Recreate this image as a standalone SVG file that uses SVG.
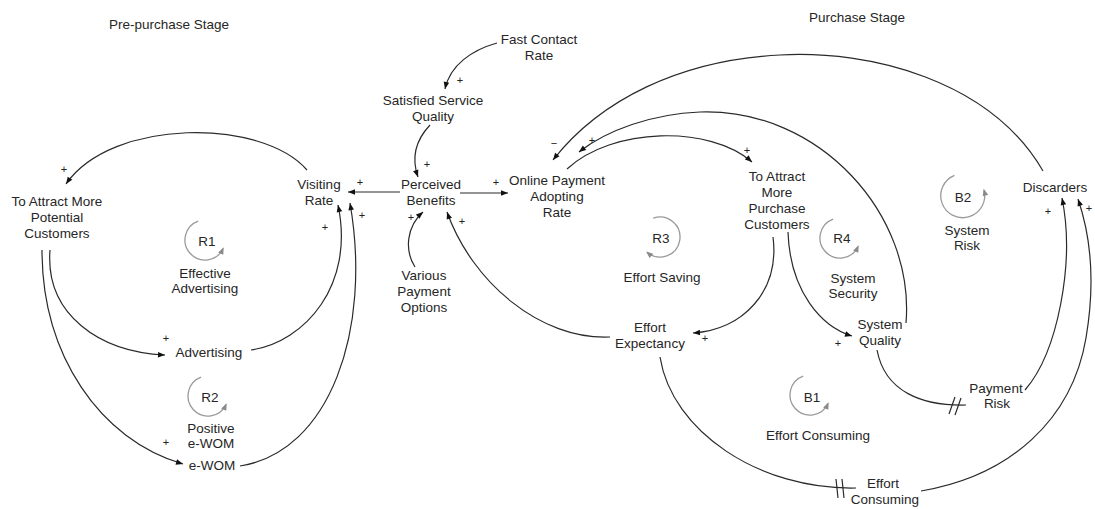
<svg xmlns="http://www.w3.org/2000/svg" width="1095" height="509" viewBox="0 0 1095 509">
<style>
.t{font-family:"Liberation Sans",Arial,sans-serif;font-size:13.5px;fill:#262626;text-anchor:middle}
.s{font-family:"Liberation Sans",Arial,sans-serif;font-size:11px;fill:#222;text-anchor:middle}
.c{fill:none;stroke:#2a2a2a;stroke-width:1.2}
.l{fill:none;stroke:#9a9a9a;stroke-width:1.3}
</style>
<defs>
<marker id="ah" viewBox="0 0 10 10" refX="10" refY="5" markerWidth="8" markerHeight="7" markerUnits="userSpaceOnUse" orient="auto"><path d="M0,1 L10,5 L0,9 z" fill="#111"/></marker>
<marker id="lh" viewBox="0 0 10 10" refX="8" refY="5" markerWidth="8" markerHeight="7" markerUnits="userSpaceOnUse" orient="auto"><path d="M0,1 L10,5 L0,9 z" fill="#8a8a8a"/></marker>
</defs>
<rect width="1095" height="509" fill="#fff"/>
<text class="t" x="169" y="29">Pre-purchase Stage</text>
<text class="t" x="857" y="22">Purchase Stage</text>
<g id="connectors">
<path class="c" marker-end="url(#ah)" d="M307,170 C262,118 112,118 66,184"/>
<path class="c" marker-end="url(#ah)" d="M50,250 C45,315 100,352 165,355"/>
<path class="c" marker-end="url(#ah)" d="M251,350 C305,342 355,285 338,205"/>
<path class="c" marker-end="url(#ah)" d="M42,250 C42,355 100,440 183,464"/>
<path class="c" marker-end="url(#ah)" d="M240,466 C330,452 372,330 350,203"/>
<path class="c" marker-end="url(#ah)" d="M400,192 L348,192"/>
<path class="c" marker-end="url(#ah)" d="M460,193 L508,193"/>
<path class="c" marker-end="url(#ah)" d="M497,43 C472,50 450,65 445,89"/>
<path class="c" marker-end="url(#ah)" d="M430,125 C414,142 412,160 418,177"/>
<path class="c" marker-end="url(#ah)" d="M415,267 C404,250 407,226 423,212"/>
<path class="c" marker-end="url(#ah)" d="M610,337 C540,340 472,282 447,212"/>
<path class="c" marker-end="url(#ah)" d="M567,169 C612,127 710,125 752,162"/>
<path class="c" marker-end="url(#ah)" d="M906,323 C915,215 820,108 700,112 C652,114 607,130 579,152"/>
<path class="c" marker-end="url(#ah)" d="M1043,171 C990,80 870,50 780,55 C680,60 600,100 553,160"/>
<path class="c" marker-end="url(#ah)" d="M773,237 C780,292 742,330 693,333"/>
<path class="c" marker-end="url(#ah)" d="M788,232 C790,292 822,327 852,336"/>
<path class="c" d="M877,350 C885,392 922,406 966,405"/>
<path class="c" d="M949,414 L955,397 M955,415 L961,398"/>
<path class="c" marker-end="url(#ah)" d="M1025,390 C1058,352 1075,262 1062,198"/>
<path class="c" d="M660,357 C672,432 760,490 856,488"/>
<path class="c" d="M836,479 L838,498 M842,479 L844,498"/>
<path class="c" marker-end="url(#ah)" d="M921,491 C1010,476 1072,420 1086,338 C1095,285 1092,240 1078,199"/>
<text class="s" x="64" y="173">+</text>
<text class="s" x="166" y="342">+</text>
<text class="s" x="325" y="231">+</text>
<text class="s" x="166" y="446">+</text>
<text class="s" x="362" y="219">+</text>
<text class="s" x="360" y="186">+</text>
<text class="s" x="496" y="186">+</text>
<text class="s" x="460" y="84">+</text>
<text class="s" x="427" y="168">+</text>
<text class="s" x="411" y="221">+</text>
<text class="s" x="462" y="225">+</text>
<text class="s" x="747" y="154">+</text>
<text class="s" x="592" y="144">+</text>
<text class="s" x="554" y="147">−</text>
<text class="s" x="705" y="342">+</text>
<text class="s" x="838" y="347">+</text>
<text class="s" x="1048" y="215">+</text>
<text class="s" x="1089" y="212">+</text>
</g>
<g id="fast-contact-rate"><text class="t" x="539" y="44">Fast Contact</text><text class="t" x="539" y="60">Rate</text></g>
<g id="satisfied-service-quality"><text class="t" x="433" y="105">Satisfied Service</text><text class="t" x="433" y="121">Quality</text></g>
<g id="visiting-rate"><text class="t" x="319" y="189">Visiting</text><text class="t" x="319" y="205">Rate</text></g>
<g id="perceived-benefits"><text class="t" x="431" y="189">Perceived</text><text class="t" x="431" y="205">Benefits</text></g>
<g id="online-payment"><text class="t" x="557" y="185">Online Payment</text><text class="t" x="557" y="201">Adopting</text><text class="t" x="557" y="217">Rate</text></g>
<g id="attract-purchase"><text class="t" x="777" y="181">To Attract</text><text class="t" x="777" y="197">More</text><text class="t" x="777" y="213">Purchase</text><text class="t" x="777" y="229">Customers</text></g>
<g id="discarders"><text class="t" x="1055" y="192">Discarders</text></g>
<g id="attract-potential"><text class="t" x="57" y="206">To Attract More</text><text class="t" x="57" y="222">Potential</text><text class="t" x="57" y="238">Customers</text></g>
<g id="advertising"><text class="t" x="209" y="357">Advertising</text></g>
<g id="ewom"><text class="t" x="212" y="470">e-WOM</text></g>
<g id="various-payment"><text class="t" x="424" y="280">Various</text><text class="t" x="424" y="296">Payment</text><text class="t" x="424" y="312">Options</text></g>
<g id="effort-expectancy"><text class="t" x="650" y="332">Effort</text><text class="t" x="650" y="348">Expectancy</text></g>
<g id="system-quality"><text class="t" x="880" y="329">System</text><text class="t" x="880" y="345">Quality</text></g>
<g id="payment-risk"><text class="t" x="996" y="393">Payment</text><text class="t" x="997" y="408">Risk</text></g>
<g id="effort-consuming"><text class="t" x="883" y="488">Effort</text><text class="t" x="885" y="504">Consuming</text></g>
<g id="loop-r1"><path class="l" marker-end="url(#lh)" d="M198.2,221.2 A20,20 0 1 0 223.1,248.5"/><text class="t" x="207" y="246">R1</text><text class="t" x="205" y="278">Effective</text><text class="t" x="205" y="293">Advertising</text></g>
<g id="loop-r2"><path class="l" marker-end="url(#lh)" d="M201.2,377.2 A20,20 0 1 0 226.1,404.5"/><text class="t" x="210" y="402">R2</text><text class="t" x="211" y="433">Positive</text><text class="t" x="211" y="448">e-WOM</text></g>
<g id="loop-r3"><path class="l" marker-end="url(#lh)" d="M653.2,218.2 A20,20 0 1 1 647.1,252.3"/><text class="t" x="661" y="243">R3</text><text class="t" x="662" y="282">Effort Saving</text></g>
<g id="loop-r4"><path class="l" marker-end="url(#lh)" d="M833.2,219.2 A20,20 0 1 0 858.1,246.5"/><text class="t" x="842" y="243">R4</text><text class="t" x="853" y="283">System</text><text class="t" x="853" y="298">Security</text></g>
<g id="loop-b1"><path class="l" marker-end="url(#lh)" d="M803.2,376.2 A20,20 0 1 0 828.1,403.5"/><text class="t" x="812" y="402">B1</text><text class="t" x="818" y="440">Effort Consuming</text></g>
<g id="loop-b2"><path class="l" marker-end="url(#lh)" d="M954.5,175.3 A22,22 0 1 0 984,190"/><text class="t" x="963" y="202">B2</text><text class="t" x="967" y="235">System</text><text class="t" x="967" y="250">Risk</text></g>
</svg>
